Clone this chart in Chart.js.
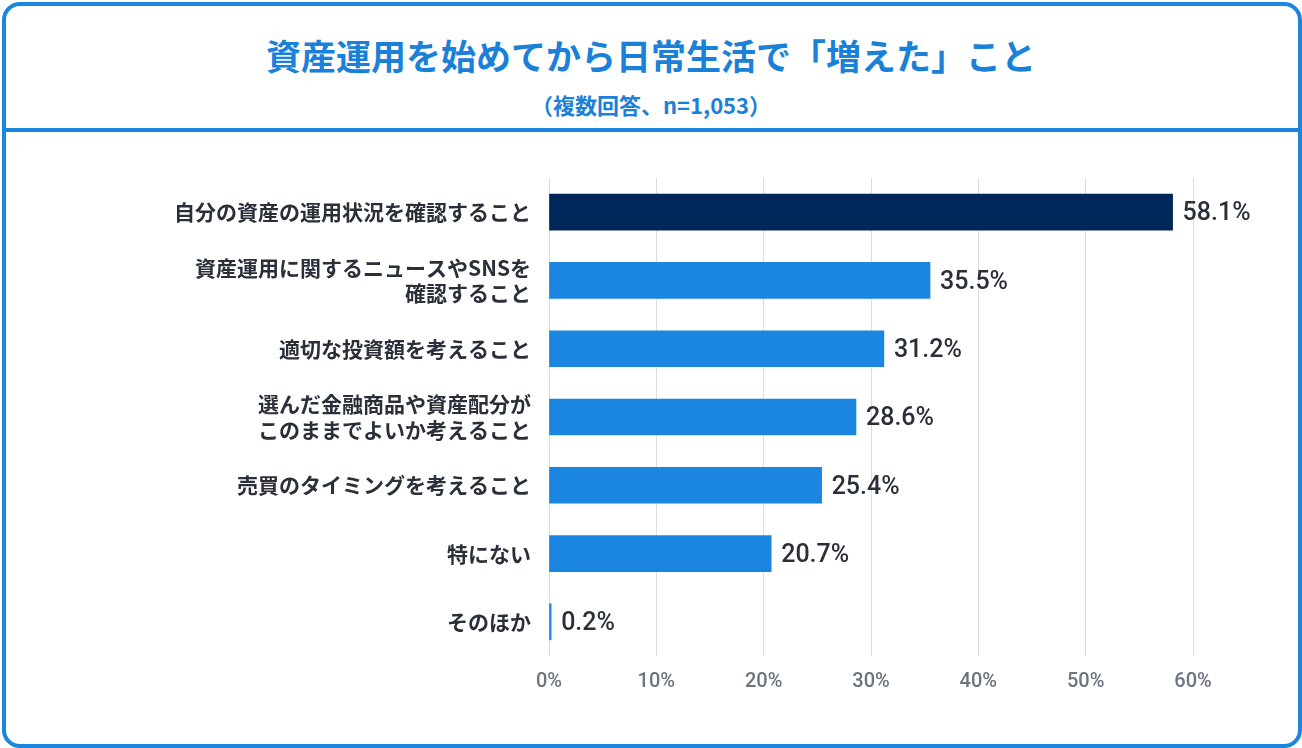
<!DOCTYPE html>
<html><head><meta charset="utf-8">
<script src="https://cdn.jsdelivr.net/npm/chart.js@4"></script>
<style>
body{margin:0;width:1302px;height:748px;overflow:hidden;background:#fff;font-family:"Noto Sans CJK JP",sans-serif}
#frame{position:absolute;left:2px;top:2px;width:1292px;height:738px;border:4px solid #1a86e0;border-radius:18px}
#title{position:absolute;left:0;top:29px;width:1302px;text-align:center;color:#1a80d8;font-size:35px;font-weight:700}
#sub{position:absolute;left:0;top:88px;width:1302px;text-align:center;color:#1a80d8;font-size:22px;font-weight:700}
#line{position:absolute;left:4px;top:128px;width:1294px;height:4px;background:#1a86e0}
#wrap{position:absolute;left:0;top:132px;width:1302px;height:610px}
</style></head><body>
<div id="frame"></div>
<div id="title">資産運用を始めてから日常生活で「増えた」こと</div>
<div id="sub">（複数回答、n=1,053）</div>
<div id="line"></div>
<div id="wrap"><canvas id="c"></canvas></div>
<script>
const categories = [
  '自分の資産の運用状況を確認すること',
  ['資産運用に関するニュースやSNSを', '確認すること'],
  '適切な投資額を考えること',
  ['選んだ金融商品や資産配分が', 'このままでよいか考えること'],
  '売買のタイミングを考えること',
  '特にない',
  'そのほか'
];
const values = [58.1, 35.5, 31.2, 28.6, 25.4, 20.7, 0.2];
const barColors = ['#00265a', '#1a86e0', '#1a86e0', '#1a86e0', '#1a86e0', '#1a86e0', '#1a86e0'];

const valueLabels = {
  id: 'valueLabels',
  afterDatasetsDraw(chart) {
    const ctx = chart.ctx;
    ctx.save();
    ctx.font = '500 25px Roboto, sans-serif';
    ctx.fillStyle = '#2a2f3a';
    ctx.textBaseline = 'middle';
    chart.getDatasetMeta(0).data.forEach((bar, i) => {
      ctx.fillText(values[i].toFixed(1) + '%', bar.x + 10, bar.y + 2);
    });
    ctx.restore();
  }
};

new Chart(document.getElementById('c'), {
  type: 'bar',
  data: {
    labels: categories,
    datasets: [{
      data: values,
      backgroundColor: barColors,
      barThickness: 36
    }]
  },
  options: {
    indexAxis: 'y',
    responsive: true,
    maintainAspectRatio: false,
    animation: false,
    layout: { padding: { top: 46, right: 109, bottom: 0, left: 0 } },
    plugins: { legend: { display: false }, tooltip: { enabled: false } },
    scales: {
      x: {
        min: 0, max: 60,
        ticks: { stepSize: 10, callback: v => v + '%', color: '#6b7480', padding: 14,
          font: { family: 'Roboto', size: 20, weight: '500' } },
        grid: { color: '#dddddd', drawTicks: false },
        border: { display: false },
        afterFit(s) { s.height = 86; }
      },
      y: {
        ticks: { color: '#2a2f3a', padding: 10,
          font: { family: 'Noto Sans CJK JP', size: 21, weight: '700' } },
        grid: { display: false },
        border: { display: false },
        afterFit(s) { s.width = 549; }
      }
    }
  },
  plugins: [valueLabels]
});
</script>
</body></html>
